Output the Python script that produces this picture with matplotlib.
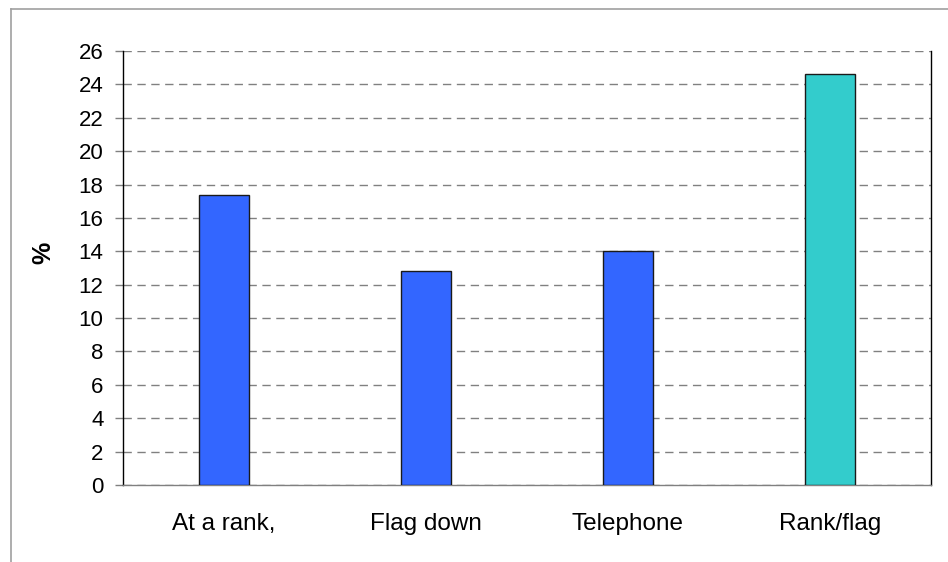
import matplotlib
matplotlib.use("Agg")
import matplotlib.pyplot as plt
from matplotlib.lines import Line2D

categories = ["At a rank,", "Flag down", "Telephone", "Rank/flag"]
values = [17.4, 12.8, 14.0, 24.6]
colors = ["#3366FF", "#3366FF", "#3366FF", "#33CCCC"]
yticks = list(range(0, 27, 2))

plt.rcParams['font.family'] = ['Liberation Sans', 'DejaVu Sans']

W, H = 948, 562
fig = plt.figure(figsize=(W / 100, H / 100), dpi=100)
ax = fig.add_axes([123 / W, 1 - 485 / H, (931 - 123) / W, (485 - 51) / H])

x = list(range(len(categories)))
ax.bar(x, values, width=0.25, color=colors, edgecolor="#1a1a1a", linewidth=1.0, zorder=3)

ax.set_xlim(-0.5, len(categories) - 0.5)
ax.set_ylim(0, 26)
ax.set_yticks(yticks)
ax.set_yticklabels([str(t) for t in yticks], fontsize=16)
ax.set_xticks(x)
ax.set_xticklabels(categories, fontsize=17.5)
ax.tick_params(axis='x', length=0, pad=20)
ax.tick_params(axis='y', length=6, width=1, color="#808080", pad=8, direction='out')

ax.yaxis.grid(True, linestyle=(0, (6, 4)), color="#808080", linewidth=1.0, zorder=1)
ax.set_axisbelow(True)

ax.spines['top'].set_visible(False)
ax.spines['left'].set_color("#000000")
ax.spines['right'].set_color("#000000")
ax.spines['bottom'].set_color("#808080")
for s in ax.spines.values():
    s.set_linewidth(1.0)

fig.text(43 / W, 1 - 253 / H, "%", fontsize=18, fontweight='bold', rotation=90,
         ha='center', va='center')

# outer chart-area border (top and left edges visible)
fig.add_artist(Line2D([11 / W, 1.0], [1 - 9 / H, 1 - 9 / H], transform=fig.transFigure,
                      color="#a0a0a0", linewidth=1.2))
fig.add_artist(Line2D([11 / W, 11 / W], [0.0, 1 - 9 / H], transform=fig.transFigure,
                      color="#a0a0a0", linewidth=1.2))

fig.savefig("out.png", dpi=100, facecolor="white")
